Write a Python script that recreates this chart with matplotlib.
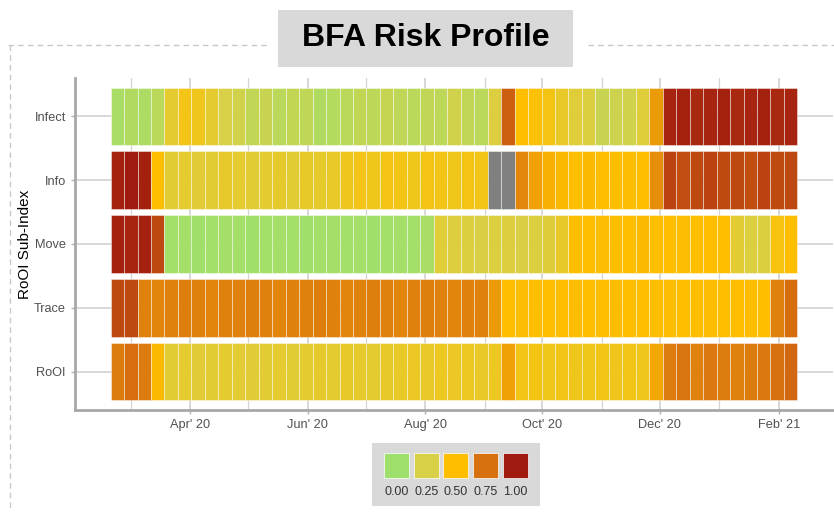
import numpy as np
import matplotlib
matplotlib.use('Agg')
import matplotlib.pyplot as plt
import matplotlib.dates as mdates
from matplotlib.colors import LinearSegmentedColormap
from matplotlib.patches import Rectangle
from matplotlib.lines import Line2D
import datetime as dt

# weekly data, 51 weeks starting 23 Feb 2020
start = dt.date(2020, 2, 23)
weeks = [start + dt.timedelta(days=7 * i) for i in range(51)]

rows = ['RoOI', 'Trace', 'Move', 'Info', 'Infect']

infect = [0.05, 0.08, 0.06, 0.12, 0.33, 0.42, 0.40, 0.33, 0.25, 0.22,
          0.15, 0.18, 0.12, 0.16, 0.14, 0.08, 0.09, 0.12, 0.15, 0.13,
          0.17, 0.14, 0.12, 0.15, 0.13, 0.22, 0.15, 0.12, 0.28, 0.80,
          0.50, 0.48, 0.43, 0.36, 0.30, 0.27, 0.18, 0.20, 0.22, 0.30,
          0.62, 0.97, 0.98, 0.96, 0.97, 0.98, 0.96, 0.97, 0.98, 0.96, 0.97]
info = [0.98, 1.00, 0.98, 0.50, 0.32, 0.33, 0.31, 0.32, 0.34, 0.33,
        0.32, 0.33, 0.34, 0.32, 0.35, 0.34, 0.36, 0.40, 0.42, 0.41,
        0.43, 0.42, 0.41, 0.43, 0.42, 0.41, 0.43, 0.42, np.nan, np.nan,
        0.68, 0.60, 0.55, 0.52, 0.50, 0.52, 0.50, 0.50, 0.51, 0.50,
        0.66, 0.88, 0.85, 0.87, 0.88, 0.86, 0.87, 0.85, 0.88, 0.86, 0.87]
move = [0.98, 0.97, 0.98, 0.87, 0.02, 0.03, 0.01, 0.02, 0.03, 0.02,
        0.01, 0.02, 0.03, 0.02, 0.01, 0.02, 0.03, 0.02, 0.02, 0.01,
        0.02, 0.03, 0.02, 0.04, 0.30, 0.28, 0.27, 0.26, 0.27, 0.28,
        0.26, 0.27, 0.29, 0.35, 0.50, 0.50, 0.51, 0.50, 0.50, 0.52,
        0.50, 0.50, 0.51, 0.50, 0.50, 0.50, 0.32, 0.27, 0.27, 0.45, 0.50]
trace = [0.87, 0.87, 0.70, 0.69, 0.70, 0.71, 0.70, 0.69, 0.70, 0.70,
         0.71, 0.70, 0.69, 0.70, 0.70, 0.71, 0.70, 0.69, 0.70, 0.71,
         0.70, 0.69, 0.70, 0.71, 0.70, 0.69, 0.70, 0.70, 0.62, 0.50,
         0.51, 0.50, 0.50, 0.50, 0.51, 0.50, 0.50, 0.51, 0.50, 0.50,
         0.50, 0.51, 0.50, 0.50, 0.51, 0.50, 0.50, 0.51, 0.50, 0.70, 0.76]
rooi = [0.72, 0.76, 0.72, 0.52, 0.32, 0.33, 0.31, 0.32, 0.33, 0.32,
        0.31, 0.32, 0.33, 0.32, 0.33, 0.34, 0.33, 0.35, 0.34, 0.33,
        0.35, 0.36, 0.37, 0.36, 0.38, 0.37, 0.38, 0.36, 0.38, 0.60,
        0.42, 0.43, 0.41, 0.42, 0.40, 0.41, 0.42, 0.41, 0.42, 0.40,
        0.58, 0.72, 0.74, 0.70, 0.73, 0.72, 0.70, 0.72, 0.73, 0.75, 0.78]

values = {'RoOI': rooi, 'Trace': trace, 'Move': move, 'Info': info, 'Infect': infect}

legend_vals = [0.00, 0.25, 0.50, 0.75, 1.00]
legend_cols = ['#9fe06c', '#d8d046', '#ffc000', '#d87210', '#a01a10']
cmap = LinearSegmentedColormap.from_list('risk', list(zip(legend_vals, legend_cols)))

W, H = 834, 512
fig = plt.figure(figsize=(W / 100, H / 100), dpi=100)

def fx(px):
    return px / W

def fy(py):
    return 1 - py / H

ax = fig.add_axes([fx(75), fy(410), fx(833) - fx(75), fy(78) - fy(410)])

xnum = mdates.date2num(weeks)
for i, r in enumerate(rows):
    v = np.array(values[r], dtype=float)
    cols = [cmap(a) if not np.isnan(a) else '#808080' for a in v]
    ax.bar(xnum, 0.9, width=7, bottom=i - 0.45, color=cols,
           edgecolor=(1, 1, 1, 0.5), linewidth=0.6, zorder=3)

ax.set_ylim(-0.6, 4.6)
ax.set_xlim(mdates.date2num(dt.date(2020, 2, 1)), mdates.date2num(dt.date(2021, 3, 1)))
ax.set_yticks(range(len(rows)))
ax.set_yticklabels(rows)

major = [dt.date(2020, 4, 1), dt.date(2020, 6, 1), dt.date(2020, 8, 1),
         dt.date(2020, 10, 1), dt.date(2020, 12, 1), dt.date(2021, 2, 1)]
minor = [dt.date(2020, 3, 1), dt.date(2020, 5, 1), dt.date(2020, 7, 1),
         dt.date(2020, 9, 1), dt.date(2020, 11, 1), dt.date(2021, 1, 1)]
ax.set_xticks(mdates.date2num(major))
ax.set_xticklabels([d.strftime("%b' %y") for d in major])
ax.set_xticks(mdates.date2num(minor), minor=True)

ax.grid(True, which='major', color='#d4d4d4', linewidth=1.3, zorder=0)
ax.grid(True, which='minor', axis='x', color='#d4d4d4', linewidth=0.9, zorder=0)
ax.set_axisbelow(True)

for s in ['top', 'right']:
    ax.spines[s].set_visible(False)
for s in ['left', 'bottom']:
    ax.spines[s].set_color('#a8a8a8')
    ax.spines[s].set_linewidth(2)

ax.tick_params(axis='both', which='major', colors='#b0b0b0', length=3, width=1,
               labelcolor='#505050', labelsize=9.2)
ax.tick_params(axis='x', which='minor', length=0)
for t in ax.get_xticklabels() + ax.get_yticklabels():
    t.set_fontfamily('Liberation Sans')

ax.set_ylabel('RoOI Sub-Index', fontsize=11, family='Liberation Sans')
ax.yaxis.set_label_coords((32 - 75) / 758, 0.5)

# dashed frame around the chart
dash = dict(color='#c8c8c8', linewidth=1, linestyle=(0, (4, 3)))
fig.add_artist(Line2D([fx(8), fx(268)], [fy(45), fy(45)], **dash))
fig.add_artist(Line2D([fx(588), fx(834)], [fy(45), fy(45)], **dash))
fig.add_artist(Line2D([fx(10), fx(10)], [fy(45), fy(512)], **dash))

# title box
fig.add_artist(Rectangle((fx(278), fy(67)), fx(573) - fx(278), fy(10) - fy(67),
                         facecolor='#d9d9d9', edgecolor='none'))
fig.text(fx(425.5), fy(38), 'BFA Risk Profile', ha='center', va='center',
         fontsize=23, fontweight='bold', family='Liberation Sans', color='black')

# legend box
fig.add_artist(Rectangle((fx(372), fy(506)), fx(540) - fx(372), fy(443) - fy(506),
                         facecolor='#d9d9d9', edgecolor='none'))
for k, (val, c) in enumerate(zip(legend_vals, legend_cols)):
    x0 = 384 + 29.7 * k
    fig.add_artist(Rectangle((fx(x0), fy(478)), fx(25), fy(453) - fy(478),
                             facecolor=cmap(val), edgecolor='white', linewidth=0.5))
    fig.text(fx(x0 + 12.5), fy(492), '%.2f' % val, ha='center', va='center',
             fontsize=9, family='Liberation Sans', color='#333333')

fig.savefig('out.png', dpi=100)
